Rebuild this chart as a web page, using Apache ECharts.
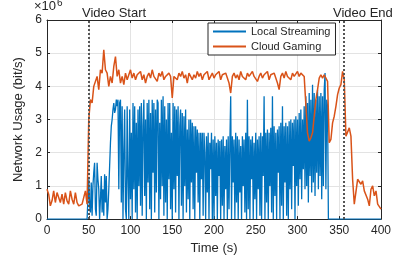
<!DOCTYPE html>
<html><head><meta charset="utf-8">
<script src="https://cdn.jsdelivr.net/npm/echarts@6/dist/echarts.min.js"></script>
<style>html,body{margin:0;padding:0;background:#fff}#c{width:402px;height:260px}</style>
</head><body><div id="c"></div>
<script>
// Sampling periods (seconds)
const localStep = 1;
const cloudStep = 2;
// Local Streaming, units of 10^6 bit/s, one value per second from t = 0 s
const localStreaming = [
  0,0,0,0,0,0,0,0,0,0,
  0,0,0,0,0,0,0,0,0,0,
  0,0,0,0,0,0,0,0,0,0,
  0,0,0,0,0,0,0,0,0,0,
  0,0,0,0,0,0,0,0,0,0,
  1.2,0.4,0.2,1.1,0.1,1.0,1.4,1.7,0.3,0.1,
  1.7,1.2,0.9,0.0,0.6,1.3,0.2,0.9,0.1,1.35,
  0.5,1.3,0.0,0.3,0.9,1.6,2.3,2.8,3.0,3.3,
  3.5,3.2,3.3,3.6,3.4,3.6,0.9,3.5,3.6,0.5,
  3.4,0.0,2.0,3.3,0.3,0.0,3.4,1.2,0.0,3.3,
  0.6,2.6,0.0,3.5,0.9,3.4,0.2,2.9,0.0,3.3,
  1.0,3.4,0.4,3.5,0.1,2.8,3.6,0.7,3.0,0.0,
  3.5,1.1,3.6,0.3,3.2,0.0,3.6,1.4,3.5,0.2,
  3.3,0.8,3.6,3.5,0.0,2.9,0.6,3.6,1.0,3.7,
  0.1,3.4,0.5,3.0,0.0,3.5,1.2,3.5,0.3,2.6,
  0.0,3.5,0.9,3.4,0.2,3.3,1.3,3.4,0.0,2.8,
  3.3,0.4,3.2,0.0,3.1,1.0,3.3,0.2,2.7,0.6,
  3.0,0.0,3.0,1.1,2.9,0.3,2.8,0.0,2.8,1.4,
  2.7,0.5,2.6,0.0,2.6,1.2,2.6,0.1,2.6,2.0,
  0.0,2.5,0.8,2.6,0.0,2.3,1.5,2.6,0.0,2.4,
  0.0,2.5,0.7,2.3,0.0,2.4,1.3,2.35,0.0,2.4,
  0.4,2.5,0.0,2.2,0.9,2.4,0.0,2.5,0.3,2.3,
  3.7,0.0,2.5,1.1,2.4,0.0,2.6,0.5,2.5,0.0,
  2.4,0.8,2.2,0.0,2.5,1.0,2.4,0.2,2.6,0.0,
  3.6,0.3,2.5,0.0,2.4,1.2,2.5,0.0,2.3,0.6,
  2.6,0.0,2.4,0.9,2.5,0.1,2.6,0.0,2.5,1.3,
  3.7,0.0,2.6,0.5,2.7,0.0,2.6,1.0,2.75,0.2,
  3.7,0.0,2.8,0.7,2.6,0.0,2.7,1.4,2.8,0.0,
  2.9,0.4,3.4,0.0,2.8,1.1,2.9,0.1,2.8,0.0,
  2.95,0.9,3.0,0.3,2.9,1.6,3.0,0.0,3.1,1.0,
  3.0,0.4,3.2,1.2,3.3,0.6,3.0,1.5,3.4,0.9,
  3.7,1.0,3.5,0.5,3.8,1.3,3.6,0.8,4.05,1.1,
  3.8,0.7,3.6,1.4,3.9,0.9,3.7,1.3,3.8,0.6,
  3.7,1.0,3.9,4.4,0.9,3.6,3.4,0.0,0.0,0.0,
  0,0,0,0,0,0,0,0,0,0,
  0,0,0,0,0,0,0,0,0,0,
  0,0,0,0,0,0,0,0,0,0,
  0,0,0,0,0,0,0,0,0,0,
  0,0,0,0,0,0,0,0,0,0,
  0,0,0,0,0,0,0,0,0,0,
  0
];
// Cloud Gaming, units of 10^6 bit/s, one value every 2 s from t = 0 s
const cloudGaming = [
  0.9,0.75,0.4,0.55,0.85,0.5,0.8,0.85,0.5,0.75,
  0.45,0.8,0.55,0.45,0.85,0.6,0.45,0.8,0.5,0.4,
  0.35,0.45,0.4,0.85,0.45,3.0,3.6,3.5,4.0,4.05,
  4.3,3.9,4.5,4.4,5.1,4.5,4.4,4.0,4.3,4.1,
  4.6,4.9,4.3,4.5,4.1,4.3,4.05,4.4,4.2,4.35,
  4.5,4.25,4.4,4.2,4.35,4.3,4.45,4.2,4.35,4.1,
  4.3,4.4,4.25,4.5,4.3,4.35,4.15,4.4,4.3,4.45,
  4.2,4.3,4.25,4.4,4.3,3.65,4.3,4.35,4.2,4.4,
  4.3,4.45,4.25,4.35,4.1,4.4,4.3,4.2,4.35,4.25,
  4.45,4.3,4.4,4.2,4.35,4.3,4.45,4.2,4.3,4.4,
  4.25,4.35,4.3,4.45,4.2,4.35,4.3,4.4,4.25,4.1,
  3.8,4.3,4.4,4.25,4.35,4.2,4.45,4.3,4.35,4.2,
  4.4,4.3,4.25,4.45,4.3,4.35,4.15,4.3,4.4,4.25,
  4.35,4.3,4.45,4.2,4.35,4.3,4.4,4.25,4.1,3.9,
  4.3,4.4,4.25,4.45,4.3,4.35,4.2,4.4,4.3,4.35,
  4.45,4.3,4.4,4.35,4.3,4.25,2.6,2.35,2.45,2.6,
  3.1,3.6,3.9,4.25,4.35,4.25,4.35,4.3,4.15,2.3,
  2.4,2.9,3.1,3.4,3.75,3.95,4.05,4.45,4.2,2.5,
  2.5,2.75,2.5,1.2,0.45,0.4,1.2,1.25,1.05,1.15,
  0.85,0.9,0.6,0.4,0.9,1.0,0.7,0.85,0.45,0.4,
  0.3
];
const seriesNames = ['Local Streaming', 'Cloud Gaming'];
const xTickValues = [0, 50, 100, 150, 200, 250, 300, 350, 400];
const yTickValues = [0, 1, 2, 3, 4, 5, 6];
const videoMarks = [{ t: 50, label: 'Video Start' }, { t: 355, label: 'Video End' }];

const FONT = 'Liberation Sans, Arial, Helvetica, sans-serif';
const INK = '#262626';
const toPairs = (vals, step) => vals.map((v, i) => [i * step, v]);

const chart = echarts.init(document.getElementById('c'), null, { renderer: 'canvas' });
const xMin = xTickValues[0], xMax = xTickValues[xTickValues.length - 1];
const xInt = xTickValues[1] - xTickValues[0];
const yMin = yTickValues[0], yMax = yTickValues[yTickValues.length - 1];
const yInt = yTickValues[1] - yTickValues[0];

const baseAxis = {
  type: 'value',
  axisLine: { show: true, onZero: false, lineStyle: { color: INK, width: 1 } },
  axisTick: { show: true, inside: true, length: 3, lineStyle: { color: INK, width: 1 } },
};

chart.setOption({
  animation: false,
  backgroundColor: '#fff',
  grid: { left: 47, right: 21, top: 20, bottom: 40, containLabel: false },
  xAxis: [
    Object.assign({}, baseAxis, {
      min: xMin, max: xMax, interval: xInt, position: 'bottom',
      axisLabel: { color: INK, fontSize: 12, margin: 6, fontFamily: FONT },
      splitLine: { show: true, lineStyle: { color: '#e3e3e3', width: 1 } },
      name: 'Time (s)', nameLocation: 'middle', nameGap: 21,
      nameTextStyle: { color: INK, fontSize: 13, fontFamily: FONT }
    }),
    Object.assign({}, baseAxis, {
      min: xMin, max: xMax, interval: xInt, position: 'top',
      axisLabel: { show: false }, splitLine: { show: false }
    })
  ],
  yAxis: [
    Object.assign({}, baseAxis, {
      min: yMin, max: yMax, interval: yInt, position: 'left',
      axisLabel: { color: INK, fontSize: 12, margin: 5, fontFamily: FONT },
      splitLine: { show: true, lineStyle: { color: '#e3e3e3', width: 1 } },
      name: 'Network Usage (bit/s)', nameLocation: 'middle', nameGap: 14,
      nameTextStyle: { color: INK, fontSize: 13, fontFamily: FONT }
    }),
    Object.assign({}, baseAxis, {
      min: yMin, max: yMax, interval: yInt, position: 'right',
      axisLabel: { show: false }, splitLine: { show: false }
    })
  ],
  legend: {
    data: seriesNames, orient: 'vertical', left: 208, top: 23,
    icon: 'rect', itemWidth: 33, itemHeight: 2, itemGap: 4,
    padding: [3, 5, 3, 5], borderColor: INK, borderWidth: 1, borderRadius: 0,
    backgroundColor: '#fff',
    textStyle: { color: INK, fontSize: 11, fontFamily: FONT }
  },
  graphic: [
    { type: 'text', x: 34, y: 0, style: { text: '×10', fill: INK, font: '13px ' + FONT } },
    { type: 'text', x: 57, y: -2, style: { text: '6', fill: INK, font: '10px ' + FONT } },
    { type: 'text', x: 82, y: 7, style: { text: videoMarks[0].label, fill: INK, font: '13px ' + FONT } },
    { type: 'text', x: 333, y: 7, style: { text: videoMarks[1].label, fill: INK, font: '13px ' + FONT } }
  ],
  series: [
    {
      name: seriesNames[0], type: 'line', data: toPairs(localStreaming, localStep),
      showSymbol: false, symbol: 'none', color: '#0072BD',
      lineStyle: { width: 1.3, color: '#0072BD' }, z: 3
    },
    {
      name: seriesNames[1], type: 'line', data: toPairs(cloudGaming, cloudStep),
      showSymbol: false, symbol: 'none', color: '#D95319',
      lineStyle: { width: 1.5, color: '#D95319' }, z: 4,
      markLine: {
        silent: true, symbol: ['none', 'none'], animation: false,
        label: { show: false },
        lineStyle: { color: '#555555', type: [2, 2], width: 2 },
        data: videoMarks.map(m => ({ xAxis: m.t }))
      }
    }
  ]
});
</script>
</body></html>
